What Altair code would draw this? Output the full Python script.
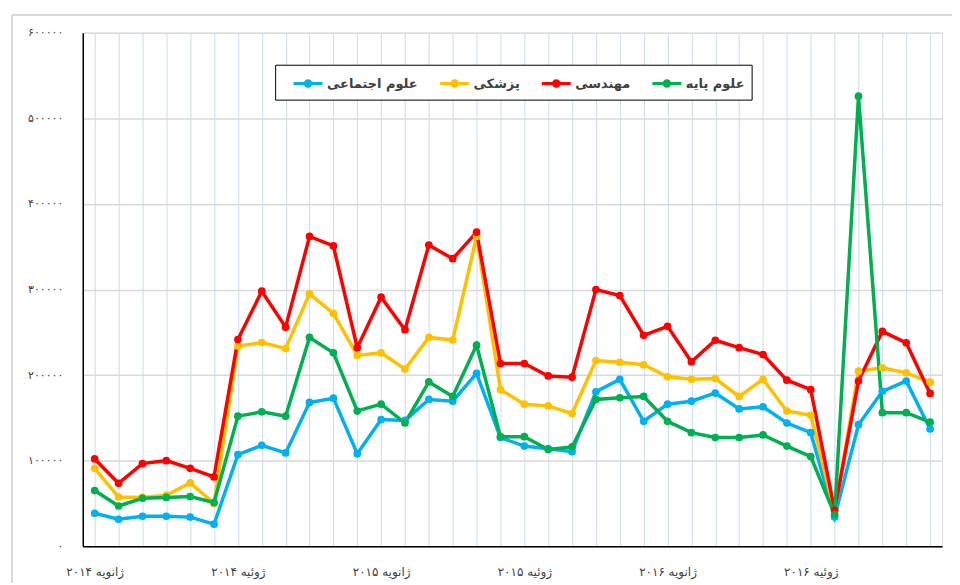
import altair as alt
import pandas as pd

months = list(range(36))

series_names = ["علوم اجتماعی", "پزشکی", "مهندسی", "علوم پایه"]
series_colors = ["#00b0f0", "#ffc000", "#ff0000", "#00b050"]

social = [38500, 31500, 35000, 35000, 34000, 25700,
          107000, 118000, 109000, 168000, 173000, 108000,
          148000, 147000, 171500, 169500, 202000, 127000,
          117000, 114000, 110500, 180500, 195000, 146000,
          166000, 169500, 179000, 160500, 163000, 144000,
          132700, 34000, 142000, 181000, 193000, 137000]
medical = [91000, 57500, 57000, 59500, 74000, 50000,
           234000, 238000, 231000, 295000, 272000, 223000,
           226000, 207000, 244000, 241000, 362000, 183000,
           166000, 164000, 155000, 217000, 215000, 212000,
           198000, 195000, 196000, 175000, 195000, 158000,
           153000, 40000, 204500, 208500, 202600, 191700]
engineering = [102000, 73500, 96500, 100000, 91000, 81000,
               241500, 298000, 256000, 362000, 351000, 232000,
               291000, 253000, 352000, 336000, 367000, 213500,
               213500, 199000, 197500, 300000, 293000, 246500,
               257000, 215500, 240700, 232000, 224000, 194000,
               183000, 42000, 193000, 251000, 237700, 178500]
basic = [65000, 47000, 56000, 57000, 58000, 51000,
         152000, 157000, 152000, 244000, 226000, 158000,
         166000, 144000, 192000, 175000, 235000, 128000,
         128000, 113000, 116000, 171500, 173500, 175000,
         146000, 132700, 127000, 127000, 130000, 117000,
         104700, 37000, 526000, 156000, 156000, 145000]

x_tick_positions = [0, 6, 12, 18, 24, 30]
x_tick_labels = ["ژانویه ۲۰۱۴", "ژوئیه ۲۰۱۴", "ژانویه ۲۰۱۵",
                 "ژوئیه ۲۰۱۵", "ژانویه ۲۰۱۶", "ژوئیه ۲۰۱۶"]
y_tick_values = [0, 100000, 200000, 300000, 400000, 500000, 600000]
y_tick_labels = ["۰", "۱۰۰۰۰۰", "۲۰۰۰۰۰", "۳۰۰۰۰۰", "۴۰۰۰۰۰", "۵۰۰۰۰۰", "۶۰۰۰۰۰"]

rows = []
for name, vals in zip(series_names, [social, medical, engineering, basic]):
    for m, v in zip(months, vals):
        rows.append({"month": m, "value": v, "series": name})
df = pd.DataFrame(rows)


def chain_expr(values, labels, default="''"):
    expr = default
    for v, l in reversed(list(zip(values, labels))):
        expr = f"datum.value == {v} ? '{l}' : ({expr})"
    return expr


x_label_expr = chain_expr(x_tick_positions, x_tick_labels)
y_label_expr = chain_expr(y_tick_values, y_tick_labels)

# legend glyph: a short line with a filled dot (dot filled via concentric rings)
legend_symbol = ("M0,0L2.9,0"
                 "M1.73,0A0.28,0.28,0,1,1,1.17,0A0.28,0.28,0,1,1,1.73,0Z"
                 "M1.6,0A0.15,0.15,0,1,1,1.3,0A0.15,0.15,0,1,1,1.6,0Z"
                 "M1.5,0A0.05,0.05,0,1,1,1.4,0A0.05,0.05,0,1,1,1.5,0Z")

lines = alt.Chart(df).mark_line(
    strokeWidth=3.5,
    point=alt.OverlayMarkDef(size=60, filled=True, opacity=1),
).encode(
    x=alt.X("month:Q",
            scale=alt.Scale(domain=[-0.5, 35.5], nice=False, zero=False),
            axis=alt.Axis(values=months, labelExpr=x_label_expr, title=None,
                          grid=True, gridColor="#c9dcf2", gridWidth=1,
                          domainColor="#000000", domainWidth=1.5, ticks=False,
                          labelOverlap=False, labelPadding=20, labelFontSize=12,
                          labelColor="#404040", labelFont="DejaVu Sans")),
    y=alt.Y("value:Q",
            scale=alt.Scale(domain=[0, 600000], nice=False),
            axis=alt.Axis(values=y_tick_values, labelExpr=y_label_expr, title=None,
                          grid=True, gridColor="#d9d9d9", gridWidth=1.5,
                          domainColor="#000000", domainWidth=1.5, ticks=False,
                          labelPadding=20, labelFontSize=11,
                          labelColor="#404040", labelFont="DejaVu Sans")),
    color=alt.Color("series:N",
                    scale=alt.Scale(domain=series_names, range=series_colors),
                    legend=alt.Legend(title=None, orient="none", direction="horizontal",
                                      legendX=193, legendY=32,
                                      fillColor="#ffffff", strokeColor="#000000",
                                      padding=7, columnPadding=10, labelOffset=22,
                                      symbolType=legend_symbol, symbolSize=400,
                                      symbolStrokeWidth=3,
                                      labelFont="DejaVu Sans", labelFontSize=13,
                                      labelFontWeight="bold", labelColor="#404040")),
    detail="series:N",
)

frame_data = pd.DataFrame({"a": [0]})
frame_h = alt.Chart(frame_data).mark_rule(color="#d9d9d9", strokeWidth=2).encode(
    x=alt.value(-71), x2=alt.value(900), y=alt.value(-18))
frame_v = alt.Chart(frame_data).mark_rule(color="#d9d9d9", strokeWidth=2).encode(
    x=alt.value(-71), y=alt.value(-18), y2=alt.value(570))

chart = alt.layer(frame_h, frame_v, lines).properties(
    width=862, height=515,
    autosize=alt.AutoSizeParams(type="none"),
    padding={"left": 75, "top": 24, "right": 10, "bottom": 36},
).configure_view(stroke=None).configure(background="#ffffff")

chart.save("out.html", embed_options={"renderer": "svg", "actions": False})
